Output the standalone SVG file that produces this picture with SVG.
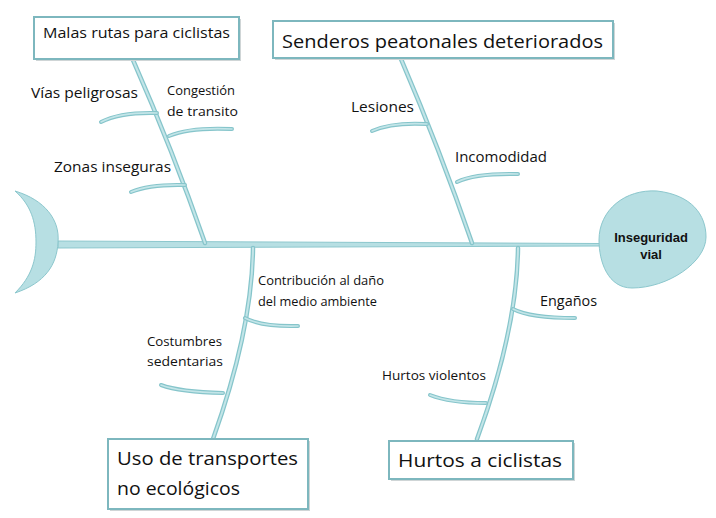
<svg xmlns="http://www.w3.org/2000/svg" width="716" height="518" viewBox="0 0 716 518">
<style>
.box{fill:#ffffff;stroke:#7db7be;stroke-width:2}
.shadow{fill:#cfd5d6}
.bo{fill:none;stroke:#86c5cb;stroke-width:4.5;stroke-linecap:round}
.bi{fill:none;stroke:#c3e5e8;stroke-width:2;stroke-linecap:round}
.ro{fill:none;stroke:#86c5cb;stroke-width:4;stroke-linecap:round}
.ri{fill:none;stroke:#c3e5e8;stroke-width:1.6;stroke-linecap:round}
.fill{fill:#b7dfe3;stroke:#8cc7cd;stroke-width:1}
.t{font-family:"Open Sans","Liberation Sans",sans-serif;fill:#111111}
.big{font-size:19px}
.med{font-size:14px}
.sm{font-size:12.5px}
.head{font-family:"Liberation Sans",Arial,sans-serif;font-weight:bold;font-size:13px;fill:#111111;text-anchor:middle}
</style>
<rect width="716" height="518" fill="#ffffff"/>

<g id="connectors">
  <!-- spine -->
  <path class="fill" d="M58,241 L600,243.5 L600,246 L58,248 Z"/>
  <!-- top-left bone -->
  <path class="bo" d="M133,60 Q173,151 205,243"/>
  <path class="bi" d="M133,60 Q173,151 205,243"/>
  <path class="ro" d="M157,113 Q120,112 101,122"/>
  <path class="ri" d="M157,113 Q120,112 101,122"/>
  <path class="ro" d="M169,136 Q190,127 232,129"/>
  <path class="ri" d="M169,136 Q190,127 232,129"/>
  <path class="ro" d="M185,185 Q150,184 131,192"/>
  <path class="ri" d="M185,185 Q150,184 131,192"/>
  <!-- top-right bone -->
  <path class="bo" d="M401,59 Q440,150 472,243"/>
  <path class="bi" d="M401,59 Q440,150 472,243"/>
  <path class="ro" d="M427,124 Q392,122 372,131"/>
  <path class="ri" d="M427,124 Q392,122 372,131"/>
  <path class="ro" d="M457,182 Q475,173 518,174"/>
  <path class="ri" d="M457,182 Q475,173 518,174"/>
  <!-- bottom-left bone -->
  <path class="bo" d="M253,248 Q252,330 213,439"/>
  <path class="bi" d="M253,248 Q252,330 213,439"/>
  <path class="ro" d="M245,318 Q262,327 298,326"/>
  <path class="ri" d="M245,318 Q262,327 298,326"/>
  <path class="ro" d="M223,393 Q180,392 161,385"/>
  <path class="ri" d="M223,393 Q180,392 161,385"/>
  <!-- bottom-right bone -->
  <path class="bo" d="M518,248 Q517,330 477,439"/>
  <path class="bi" d="M518,248 Q517,330 477,439"/>
  <path class="ro" d="M513,309 Q530,318 575,318"/>
  <path class="ri" d="M513,309 Q530,318 575,318"/>
  <path class="ro" d="M486,403 Q450,403 430,395"/>
  <path class="ri" d="M486,403 Q450,403 430,395"/>
</g>

<g id="tail">
  <path class="fill" d="M15,191 C45,200 60,220 58,242 C57,265 45,283 15,293 C32,276 36,260 36,242 C36,222 31,205 15,191 Z"/>
</g>

<g id="head">
  <path class="fill" d="M657,191 C692,195 706,215 706,237 C706,262 668,288 632,288 C608,288 599,262 599,240 C599,210 625,189 657,191 Z"/>
  <text class="head" x="651" y="242">Inseguridad</text>
  <text class="head" x="651" y="259">vial</text>
</g>

<g id="malas-rutas">
  <rect class="shadow" x="36" y="19" width="205" height="42"/>
  <rect class="box" x="34" y="17" width="205" height="42"/>
  <text class="t med" x="43" y="38" textLength="187" lengthAdjust="spacingAndGlyphs">Malas rutas para ciclistas</text>
</g>

<g id="senderos">
  <rect class="shadow" x="275" y="23" width="340" height="37"/>
  <rect class="box" x="273" y="21" width="340" height="37"/>
  <text class="t big" x="282" y="48" textLength="321" lengthAdjust="spacingAndGlyphs">Senderos peatonales deteriorados</text>
</g>

<g id="uso-transportes">
  <rect class="shadow" x="110" y="441" width="200" height="70"/>
  <rect class="box" x="108" y="439" width="200" height="70"/>
  <text class="t big" x="117" y="465" textLength="181" lengthAdjust="spacingAndGlyphs">Uso de transportes</text>
  <text class="t big" x="117" y="495" textLength="123" lengthAdjust="spacingAndGlyphs">no ecológicos</text>
</g>

<g id="hurtos-ciclistas">
  <rect class="shadow" x="391" y="443" width="184" height="38"/>
  <rect class="box" x="389" y="441" width="184" height="38"/>
  <text class="t big" x="398" y="467" textLength="164" lengthAdjust="spacingAndGlyphs">Hurtos a ciclistas</text>
</g>

<g id="vias-peligrosas">
  <text class="t med" x="31" y="98" textLength="107" lengthAdjust="spacingAndGlyphs">Vías peligrosas</text>
</g>
<g id="congestion">
  <text class="t sm" x="167" y="95" textLength="68" lengthAdjust="spacingAndGlyphs">Congestión</text>
  <text class="t sm" x="167" y="116" textLength="71" lengthAdjust="spacingAndGlyphs">de transito</text>
</g>
<g id="zonas-inseguras">
  <text class="t med" x="54" y="172" textLength="117" lengthAdjust="spacingAndGlyphs">Zonas inseguras</text>
</g>
<g id="lesiones">
  <text class="t med" x="351" y="112" textLength="63" lengthAdjust="spacingAndGlyphs">Lesiones</text>
</g>
<g id="incomodidad">
  <text class="t med" x="455" y="162" textLength="92" lengthAdjust="spacingAndGlyphs">Incomodidad</text>
</g>
<g id="contribucion">
  <text class="t sm" x="258" y="285" textLength="126" lengthAdjust="spacingAndGlyphs">Contribución al daño</text>
  <text class="t sm" x="258" y="306" textLength="119" lengthAdjust="spacingAndGlyphs">del medio ambiente</text>
</g>
<g id="costumbres">
  <text class="t sm" x="147" y="346" textLength="75" lengthAdjust="spacingAndGlyphs">Costumbres</text>
  <text class="t sm" x="147" y="366" textLength="76" lengthAdjust="spacingAndGlyphs">sedentarias</text>
</g>
<g id="enganos">
  <text class="t med" x="540" y="306" textLength="57" lengthAdjust="spacingAndGlyphs">Engaños</text>
</g>
<g id="hurtos-violentos">
  <text class="t sm" x="382" y="380" textLength="104" lengthAdjust="spacingAndGlyphs">Hurtos violentos</text>
</g>
</svg>
